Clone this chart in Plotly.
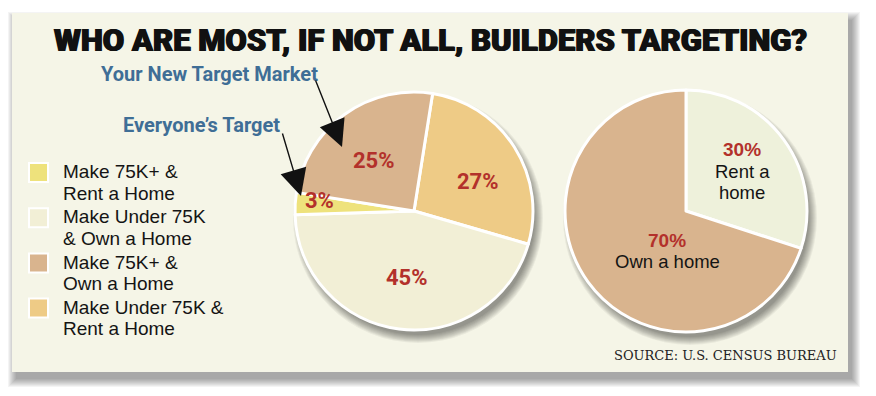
import math
import plotly.graph_objects as go

W, H = 876, 396
OX, OY = 8, 8            # default page margin of the written html
FW, FH = W - OX, H - OY  # figure size so the picture fills the window exactly

# ---------------- data ----------------
title_text = "WHO ARE MOST, IF NOT ALL, BUILDERS TARGETING?"
left_categories = ["Make 75K+ &\nRent a Home", "Make Under 75K\n& Own a Home",
                   "Make 75K+ &\nOwn a Home", "Make Under 75K &\nRent a Home"]
left_values = [3, 45, 25, 27]
right_categories = ["Rent a\nhome", "Own a home"]
right_values = [30, 70]
callouts = ["Your New Target Market", "Everyone\u2019s Target"]
source_text = "SOURCE: U.S. CENSUS BUREAU"

# ---------------- styles ----------------
left_colors = ["#eee27c", "#f2efd6", "#d9b48e", "#eecb86"]
right_colors = ["#eef1db", "#d9b48e"]
left_draw_order = [3, 1, 0, 2]          # clockwise from the rotation angle
left_rotation = 9
right_rotation = 0
left_center, left_r = (414, 211), 119
right_center, right_r = (686, 211), 121
left_label_frac = [0.795, 0.56, 0.54, 0.59]
left_label_dang = [2.8, -1.2, -2.4, 7.7]
right_label_frac = [0.57, 0.366]
right_label_dang = [1, -28.6]
RED = "#b3312b"
BLUE = "#3f6e96"
PANEL = "#f5f5e7"
ROBOTO = "Roboto, Liberation Sans, sans-serif"
SANS = "Liberation Sans, Arial, sans-serif"


def px(x):
    return (x - OX) / FW


def py(y):
    return 1 - (y - OY) / FH


def slice_mids(values, order, rotation):
    total = sum(values)
    a = rotation
    mids = {}
    for i in order:
        span = values[i] / total * 360
        mids[i] = a + span / 2
        a += span
    return mids


def polar(center, r, ang, frac):
    t = math.radians(ang)
    return center[0] + frac * r * math.sin(t), center[1] - frac * r * math.cos(t)


def domain(center, r):
    return dict(x=[px(center[0] - r), px(center[0] + r)],
                y=[py(center[1] + r), py(center[1] - r)])


fig = go.Figure()

fig.add_trace(go.Pie(
    labels=[left_categories[i].replace("\n", " ") for i in left_draw_order],
    values=[left_values[i] for i in left_draw_order],
    marker=dict(colors=[left_colors[i] for i in left_draw_order],
                line=dict(color="white", width=3)),
    sort=False, direction="clockwise", rotation=left_rotation,
    textinfo="none", hoverinfo="label+percent", showlegend=False,
    domain=domain(left_center, left_r),
))
fig.add_trace(go.Pie(
    labels=[c.replace("\n", " ") for c in right_categories],
    values=right_values,
    marker=dict(colors=right_colors, line=dict(color="white", width=3)),
    sort=False, direction="clockwise", rotation=right_rotation,
    textinfo="none", hoverinfo="label+percent", showlegend=False,
    domain=domain(right_center, right_r),
))

shapes = []
# panel shadow
for s in range(9):
    shapes.append(dict(type="rect", xref="paper", yref="paper", layer="below",
                       x0=px(12 + 4 - s), x1=px(848 + 4 + s),
                       y0=py(372 + 7 + s), y1=py(13 + 7 - s),
                       fillcolor="rgba(0,0,0,0.045)", line=dict(width=0)))
shapes.append(dict(type="rect", xref="paper", yref="paper", layer="below",
                   x0=px(12), x1=px(848), y0=py(372), y1=py(13),
                   fillcolor=PANEL, line=dict(width=0)))
# pie shadows
for (cx, cy), r in [(left_center, left_r), (right_center, right_r)]:
    for s in range(9):
        rr = r - 2 + s
        shapes.append(dict(type="circle", xref="paper", yref="paper", layer="below",
                           x0=px(cx + 4 - rr), x1=px(cx + 4 + rr),
                           y0=py(cy + 7 + rr), y1=py(cy + 7 - rr),
                           fillcolor="rgba(0,0,0,0.05)", line=dict(width=0)))

annotations = []


def note(text, x, y, font, xanchor="center"):
    annotations.append(dict(text=text, x=px(x), y=py(y), xref="paper", yref="paper",
                            showarrow=False, xanchor=xanchor, yanchor="middle",
                            borderpad=0, font=font))


# title
note(title_text, 430, 40.5,
     dict(family="Roboto Black, Roboto, DejaVu Sans, sans-serif", size=31, weight=900,
          color="#111111", shadow="0.7px 0 0 #111111, -0.7px 0 0 #111111"))

# legend
for i, cat in enumerate(left_categories):
    yc = 172.5 + 45.2 * i
    shapes.append(dict(type="rect", xref="paper", yref="paper",
                       x0=px(29), x1=px(48), y0=py(yc + 9.5), y1=py(yc - 9.5),
                       fillcolor=left_colors[i], line=dict(color="white", width=2)))
    for j, line in enumerate(cat.split("\n")):
        note(line, 62, yc - 0.75 + 21.5 * j,
             dict(family=SANS, size=19, color="#141414"), xanchor="left")

# left pie labels
mids = slice_mids(left_values, left_draw_order, left_rotation)
for i, v in enumerate(left_values):
    x, y = polar(left_center, left_r, mids[i] + left_label_dang[i], left_label_frac[i])
    note(f"{v}%", x, y, dict(family=ROBOTO, size=22, weight="bold", color=RED))

# right pie labels
rmids = slice_mids(right_values, [0, 1], right_rotation)
for i, v in enumerate(right_values):
    x, y = polar(right_center, right_r, rmids[i] + right_label_dang[i], right_label_frac[i])
    lines = [(f"{v}%", RED, "bold", 19)] + [(t, "#141414", "normal", 18.5)
                                              for t in right_categories[i].split("\n")]
    n = len(lines)
    pitch = 21.5
    for j, (t, col, wt, sz) in enumerate(lines):
        off = (j - (n - 1) / 2) * pitch
        note(t, x, y + off, dict(family=SANS, size=sz, weight=wt, color=col))

# callouts
note(callouts[0], 100, 73.5, dict(family=ROBOTO, size=20, weight="bold", color=BLUE),
     xanchor="left")
note(callouts[1], 122, 124.5, dict(family=ROBOTO, size=20, weight="bold", color=BLUE),
     xanchor="left")
for (tx, ty), (hx, hy) in [((315, 79), (342, 147)), ((282, 132), (301, 196))]:
    annotations.append(dict(text="", x=px(hx), y=py(hy), xref="paper", yref="paper",
                            ax=tx - hx, ay=ty - hy, showarrow=True, arrowhead=2,
                            arrowsize=3.8, arrowwidth=1.4, arrowcolor="#111111"))

# source
note(source_text, 838, 355,
     dict(family="DejaVu Serif, Liberation Serif, serif", size=13, color="#222222"),
     xanchor="right")

fig.update_layout(width=FW, height=FH, margin=dict(l=0, r=0, t=0, b=0),
                  paper_bgcolor="white", plot_bgcolor="white",
                  shapes=shapes, annotations=annotations, showlegend=False)

fig.write_html("out.html")
